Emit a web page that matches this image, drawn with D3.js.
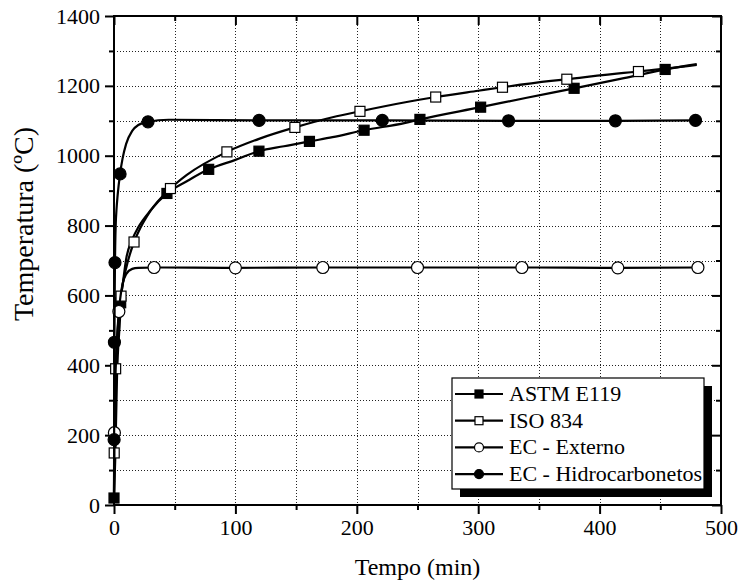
<!DOCTYPE html>
<html>
<head>
<meta charset="utf-8">
<script src="https://cdn.jsdelivr.net/npm/d3@7"></script>
<style>
    body { margin: 0; background: #fff; }
    svg { display: block; font-family: "Liberation Serif", "Times New Roman", serif; }
</style>
</head>
<body>
<div class="svg-container"></div>
<script>
'use strict';

// tick values
var xTicks = [0, 100, 200, 300, 400, 500];
var xMinor = [50, 150, 250, 350, 450];
var yTicks = [0, 200, 400, 600, 800, 1000, 1200, 1400];
var yMinor = [100, 300, 500, 700, 900, 1100, 1300];

var seriesNames = ['ASTM E119', 'ISO 834', 'EC - Externo', 'EC - Hidrocarbonetos'];

// curves [tempo (min), temperatura (C)]
var astmCurve = [[0, 20], [1, 130], [2.5, 370], [5, 538], [5.5, 579], [7.5, 640], [10, 704], [15, 760], [20, 795],
    [30, 843], [43.6, 892], [60, 927], [78, 961], [100, 988], [119.4, 1013], [140, 1027], [161, 1041], [180, 1053],
    [206, 1073], [240, 1094], [252, 1104], [302, 1139], [340, 1166], [379, 1193], [420, 1222], [454, 1247], [480, 1262]];
var isoCurve = [[0, 20], [0.17, 149], [0.5, 261], [1, 349], [1.35, 390], [2, 445], [3, 502], [5, 576], [5.8, 598],
    [7.5, 638], [10, 678], [16.5, 753], [20, 781], [30, 842], [46.5, 906], [60, 945], [93, 1011], [120, 1049],
    [149, 1081], [180, 1110], [202.6, 1127], [240, 1153], [265, 1168], [300, 1186], [320, 1196], [360, 1214],
    [373, 1219], [420, 1237], [432, 1241], [480, 1260]];
var extCurve = [[0, 20], [0.33, 207], [0.5, 263], [1, 346], [2, 441], [3, 506], [4, 554], [5, 588], [7, 632],
    [10, 661], [15, 676], [20, 679], [33, 680], [100, 679], [172, 680], [250, 680], [336, 680], [415, 679], [481, 680]];
var hcCurve = [[0, 20], [0.1, 187], [0.2, 319], [0.35, 466], [0.5, 569], [0.8, 694], [1, 743], [1.5, 810], [2, 843],
    [3, 887], [5, 948], [7, 991], [10, 1034], [15, 1071], [20, 1088], [28, 1097], [45, 1103], [119.5, 1101],
    [221, 1101], [325, 1100], [413, 1100], [479, 1101]];

// symbol positions
var astmMarks = [[0, 20], [5.5, 579], [43.6, 892], [78, 961], [119.4, 1013], [161, 1041], [206, 1073], [252, 1104],
    [302, 1139], [379, 1193], [454, 1247]];
var isoMarks = [[0.17, 149], [1.35, 390], [5.8, 598], [16.5, 753], [46.5, 906], [93, 1011], [149, 1081],
    [202.6, 1127], [265, 1168], [320, 1196], [373, 1219], [432, 1241]];
var extMarks = [[0.33, 207], [4, 554], [33, 680], [100, 679], [172, 680], [250, 680], [336, 680], [415, 679], [481, 680]];
var hcMarks = [[0.1, 187], [0.35, 466], [0.8, 694], [5, 948], [28, 1097], [119.5, 1101], [221, 1101], [325, 1100],
    [413, 1100], [479, 1101]];

var config = { width: 742, height: 582, left: 114, right: 721, top: 16, bottom: 505 };

var x = d3.scaleLinear().domain([0, 500]).range([config.left, config.right]);
var y = d3.scaleLinear().domain([0, 1400]).range([config.bottom, config.top]);

var svg = d3.select('.svg-container').append('svg')
    .attr('width', config.width)
    .attr('height', config.height);

function drawGrid(){
    var g = svg.append('g').attr('class', 'grid')
        .attr('stroke', '#222')
        .attr('stroke-width', 1)
        .attr('stroke-dasharray', '1,2');

    g.selectAll('.gx').data(xMinor.concat(xTicks.slice(1, -1)))
        .enter().append('line')
        .attr('x1', function(d){ return Math.round(x(d)) + 0.5; })
        .attr('x2', function(d){ return Math.round(x(d)) + 0.5; })
        .attr('y1', config.top)
        .attr('y2', config.bottom);

    g.selectAll('.gy').data(yMinor.concat(yTicks.slice(1, -1)))
        .enter().append('line')
        .attr('y1', function(d){ return Math.round(y(d)) + 0.5; })
        .attr('y2', function(d){ return Math.round(y(d)) + 0.5; })
        .attr('x1', config.left)
        .attr('x2', config.right);
}

function styleAxis(sel){
    sel.select('.domain').remove();
    sel.selectAll('line').attr('stroke', '#000').attr('stroke-width', 2);
    sel.selectAll('text').attr('fill', '#000').style('font-size', '22px').style('font-family', '"Liberation Serif", serif');
}

function drawAxes(){
    var fmt = d3.format('d');

    var bottom = svg.append('g').attr('transform', 'translate(0,' + config.bottom + ')');
    bottom.call(d3.axisBottom(x).tickValues(xTicks).tickSize(9).tickPadding(5).tickFormat(fmt)).call(styleAxis);
    bottom.append('g').call(d3.axisBottom(x).tickValues(xMinor).tickSize(5).tickFormat('')).call(styleAxis);

    var left = svg.append('g').attr('transform', 'translate(' + config.left + ',0)');
    left.call(d3.axisLeft(y).tickValues(yTicks).tickSize(9).tickPadding(5).tickFormat(fmt)).call(styleAxis);
    left.append('g').call(d3.axisLeft(y).tickValues(yMinor).tickSize(5).tickFormat('')).call(styleAxis);

    // mirrored axes, ticks inward
    var top = svg.append('g').attr('transform', 'translate(0,' + config.top + ')');
    top.call(d3.axisBottom(x).tickValues(xTicks).tickSize(9).tickFormat('')).call(styleAxis);
    top.append('g').call(d3.axisBottom(x).tickValues(xMinor).tickSize(5).tickFormat('')).call(styleAxis);

    var right = svg.append('g').attr('transform', 'translate(' + config.right + ',0)');
    right.call(d3.axisLeft(y).tickValues(yTicks).tickSize(9).tickFormat('')).call(styleAxis);
    right.append('g').call(d3.axisLeft(y).tickValues(yMinor).tickSize(5).tickFormat('')).call(styleAxis);

    svg.append('rect')
        .attr('x', config.left)
        .attr('y', config.top)
        .attr('width', config.right - config.left)
        .attr('height', config.bottom - config.top)
        .attr('fill', 'none')
        .attr('stroke', '#000')
        .attr('stroke-width', 2);

    svg.append('text')
        .attr('x', (config.left + config.right) / 2)
        .attr('y', 575)
        .attr('text-anchor', 'middle')
        .style('font-size', '24px')
        .text('Tempo (min)');

    svg.append('text')
        .attr('transform', 'translate(33,224)rotate(-90)')
        .attr('text-anchor', 'middle')
        .style('font-size', '28px')
        .text('Temperatura (ºC)');
}

// draw one symbol at (cx, cy)
function symbol(g, kind, cx, cy, s){
    if(kind === 'square' || kind === 'osquare'){
        g.append('rect')
            .attr('x', cx - s / 2).attr('y', cy - s / 2)
            .attr('width', s).attr('height', s)
            .attr('fill', kind === 'square' ? '#000' : '#fff')
            .attr('stroke', '#000').attr('stroke-width', 1.2);
    } else {
        g.append('circle')
            .attr('cx', cx).attr('cy', cy).attr('r', s / 2)
            .attr('fill', kind === 'circle' ? '#000' : '#fff')
            .attr('stroke', '#000').attr('stroke-width', 1.2);
    }
}

var line = d3.line()
    .x(function(d){ return x(d[0]); })
    .y(function(d){ return y(d[1]); })
    .curve(d3.curveMonotoneX);

var series = [
    { curve: astmCurve, marks: astmMarks, kind: 'square', size: 10 },
    { curve: isoCurve, marks: isoMarks, kind: 'osquare', size: 10 },
    { curve: extCurve, marks: extMarks, kind: 'ocircle', size: 12 },
    { curve: hcCurve, marks: hcMarks, kind: 'circle', size: 12 }
];

function drawSeries(){
    var g = svg.append('g').attr('class', 'series');
    series.forEach(function(s){
        var sg = g.append('g');
        sg.append('path')
            .datum(s.curve)
            .attr('d', line)
            .attr('fill', 'none')
            .attr('stroke', '#000')
            .attr('stroke-width', 2.2);
        s.marks.forEach(function(m){
            symbol(sg, s.kind, x(m[0]), y(m[1]), s.size);
        });
    });
}

function drawLegend(){
    var lx = 452, ly = 378, lw = 252, lh = 111;
    var g = svg.append('g').attr('class', 'legend');
    g.append('rect')
        .attr('x', lx + 8).attr('y', ly + 8)
        .attr('width', lw).attr('height', lh)
        .attr('fill', '#000');
    g.append('rect')
        .attr('x', lx).attr('y', ly)
        .attr('width', lw).attr('height', lh)
        .attr('fill', '#fff')
        .attr('stroke', '#000').attr('stroke-width', 1.2);

    seriesNames.forEach(function(name, i){
        var cy = ly + 16 + i * 26.7;
        g.append('line')
            .attr('x1', lx + 3).attr('x2', lx + 51)
            .attr('y1', cy).attr('y2', cy)
            .attr('stroke', '#000').attr('stroke-width', 2.2);
        symbol(g, series[i].kind, lx + 27, cy, series[i].kind.indexOf('circle') >= 0 ? 9 : 8);
        g.append('text')
            .attr('x', lx + 57).attr('y', cy + 7)
            .style('font-size', '22px')
            .text(name);
    });
}

drawGrid();
drawAxes();
drawSeries();
drawLegend();
</script>
</body>
</html>
